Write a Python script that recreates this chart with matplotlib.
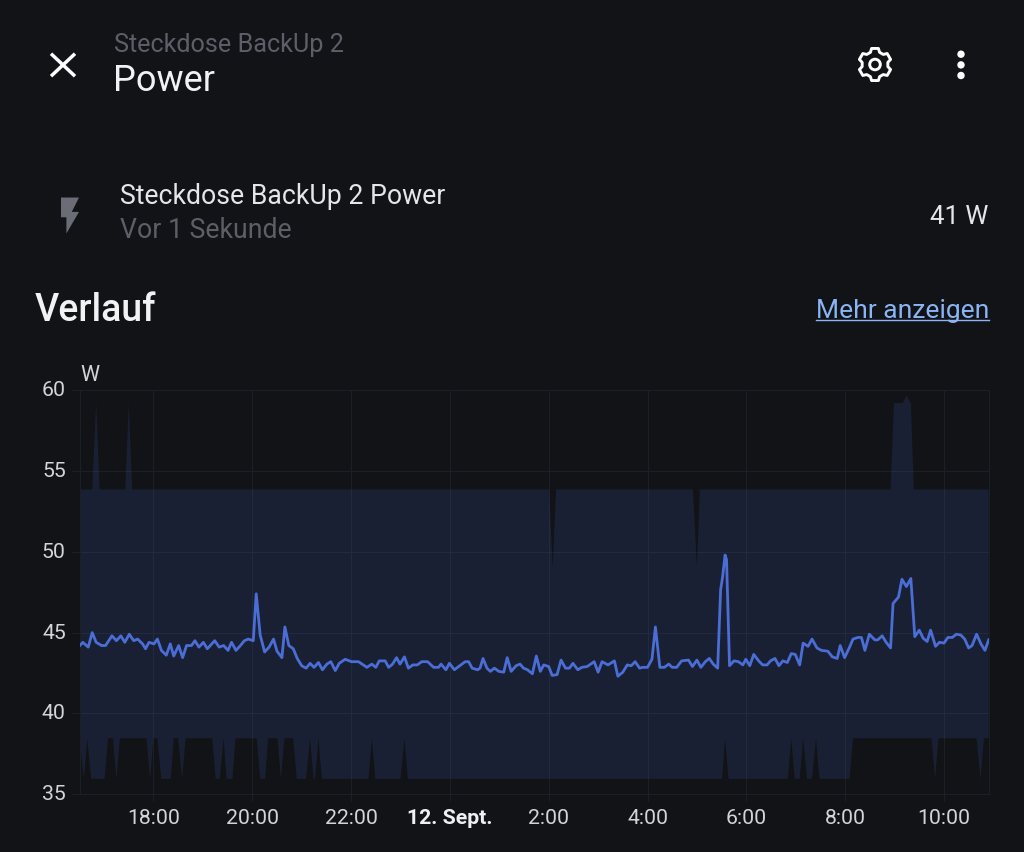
import numpy as np
import matplotlib
matplotlib.use('Agg')
import matplotlib.pyplot as plt
from matplotlib.patches import Circle, Polygon
from matplotlib.transforms import ScaledTranslation

# Time axis is hours since midnight of 11 Sept
t_start = 16.507
t_end = 34.906

power_t = [
    16.51, 16.57, 16.68, 16.76, 16.84, 16.95, 17.03, 17.16, 17.25, 17.34, 17.42, 17.51, 17.60, 17.68, 17.78, 17.84,
    17.91, 18.01, 18.08, 18.16, 18.26, 18.34, 18.41, 18.51, 18.59, 18.67, 18.77, 18.84, 18.92, 19.01, 19.09, 19.24,
    19.33, 19.42, 19.51, 19.58, 19.67, 19.76, 19.84, 19.92, 20.02, 20.08, 20.16, 20.25, 20.34, 20.43, 20.50, 20.60,
    20.66, 20.74, 20.83, 20.91, 21.00, 21.09, 21.17, 21.25, 21.34, 21.42, 21.51, 21.59, 21.68, 21.76, 21.88, 22.01,
    22.15, 22.32, 22.42, 22.50, 22.57, 22.69, 22.76, 22.84, 22.92, 22.99, 23.08, 23.16, 23.25, 23.34, 23.43, 23.55,
    23.67, 23.77, 23.82, 23.92, 23.99, 24.09, 24.20, 24.31, 24.38, 24.45, 24.56, 24.61, 24.67, 24.75, 24.82, 24.90,
    24.99, 25.09, 25.16, 25.24, 25.34, 25.42, 25.49, 25.57, 25.67, 25.75, 25.83, 25.90, 26.00, 26.07, 26.17, 26.25,
    26.34, 26.42, 26.49, 26.59, 26.67, 26.78, 26.92, 27.00, 27.08, 27.20, 27.33, 27.40, 27.50, 27.59, 27.67, 27.75,
    27.84, 27.90, 28.00, 28.09, 28.16, 28.25, 28.34, 28.43, 28.50, 28.59, 28.69, 28.83, 28.91, 29.00, 29.08, 29.17,
    29.25, 29.33, 29.42, 29.48, 29.52, 29.57, 29.60, 29.66, 29.75, 29.84, 29.93, 29.99, 30.07, 30.15, 30.25, 30.33,
    30.42, 30.49, 30.58, 30.66, 30.74, 30.83, 30.91, 30.99, 31.08, 31.15, 31.25, 31.33, 31.43, 31.52, 31.65, 31.74,
    31.84, 31.90, 31.99, 32.09, 32.16, 32.26, 32.33, 32.40, 32.49, 32.60, 32.66, 32.75, 32.83, 32.92, 32.97, 33.08,
    33.15, 33.24, 33.33, 33.41, 33.50, 33.58, 33.66, 33.73, 33.83, 33.91, 34.00, 34.08, 34.17, 34.25, 34.34, 34.42,
    34.50, 34.57, 34.66, 34.75, 34.83, 34.906,
]
power_w = [
    44.2, 44.4, 44.1, 45.0, 44.4, 44.2, 44.2, 44.8, 44.5, 44.8, 44.4, 44.9, 44.5, 44.6, 44.3, 44.0,
    44.4, 44.3, 44.6, 43.9, 43.6, 44.3, 43.55, 44.2, 43.45, 44.2, 44.2, 44.5, 44.1, 44.4, 44.0, 44.5,
    44.1, 44.2, 43.9, 44.4, 43.9, 44.2, 44.5, 44.6, 44.5, 47.4, 44.85, 43.8, 44.1, 44.6, 43.85, 43.45,
    45.35, 44.2, 44.0, 43.4, 42.95, 42.8, 43.1, 42.85, 43.15, 42.7, 43.05, 43.2, 42.65, 43.1, 43.35, 43.2,
    43.2, 42.85, 43.05, 42.85, 43.25, 43.25, 42.85, 43.05, 43.45, 43.05, 43.5, 42.8, 43.0, 43.0, 43.2, 43.2,
    42.85, 42.85, 43.05, 42.7, 43.1, 42.7, 42.95, 43.2, 43.2, 42.8, 42.7, 42.8, 43.4, 42.8, 42.6, 42.8,
    42.6, 42.55, 43.45, 42.6, 42.95, 43.05, 42.8, 42.7, 42.45, 43.55, 42.6, 43.0, 42.9, 42.35, 42.4, 43.3,
    42.8, 42.8, 43.1, 42.7, 42.85, 42.9, 43.2, 42.55, 43.2, 43.0, 43.25, 42.3, 42.55, 43.0, 42.95, 43.2,
    42.8, 42.85, 42.85, 43.35, 45.35, 42.85, 42.85, 43.05, 42.85, 42.85, 43.25, 43.3, 42.9, 43.3, 42.85, 43.2,
    43.4, 43.05, 42.8, 47.65, 48.45, 49.8, 49.5, 42.95, 43.25, 43.2, 43.0, 43.35, 42.95, 43.65, 43.25, 43.0,
    43.0, 43.25, 43.4, 42.95, 43.25, 43.15, 43.7, 43.65, 43.0, 44.35, 44.15, 44.6, 44.05, 43.9, 43.85, 43.5,
    43.4, 44.2, 43.45, 44.1, 44.6, 44.7, 44.7, 43.9, 44.9, 44.55, 44.55, 44.8, 44.4, 44.05, 46.8, 47.2,
    48.3, 47.85, 48.35, 44.75, 45.15, 44.65, 44.45, 45.15, 44.15, 44.4, 44.35, 44.7, 44.7, 44.9, 44.85, 44.6,
    44.05, 44.2, 44.9, 44.3, 43.9, 44.55,
]

# Upper edge of the min/max band
max_t = [16.507, 16.76, 16.84, 16.91, 17.43, 17.50, 17.57, 26.01, 26.08, 26.15, 28.92, 29.00, 29.06,
         32.92, 32.99, 33.17, 33.24, 33.33, 33.39, 34.906]
max_w = [53.86, 53.86, 59.2, 53.86, 53.86, 59.2, 53.86, 53.86, 49.0, 53.86, 53.86, 49.0, 53.86,
         53.86, 59.2, 59.2, 59.7, 59.2, 53.86, 53.86]

# Lower edge of the min/max band
min_t = [16.507, 16.59, 16.66, 16.74, 17.01, 17.08, 17.18, 17.25, 17.32, 17.86, 17.93, 18.00, 18.08, 18.16, 18.35,
         18.41, 18.50, 18.58, 18.65, 19.19, 19.26, 19.34, 19.42, 19.48, 19.60, 19.66, 20.09, 20.16, 20.26, 20.32,
         20.51, 20.58, 20.65, 20.83, 20.90, 21.09, 21.17, 21.24, 21.27, 21.34, 21.41, 22.35, 22.42, 22.49, 23.00,
         23.08, 23.15, 29.51, 29.57, 29.64, 30.84, 30.91, 30.98, 31.08, 31.15, 31.23, 31.33, 31.41, 31.48, 32.09,
         32.16, 33.75, 33.82, 33.89, 34.66, 34.74, 34.81, 34.906]
min_w = [38.46, 35.95, 38.46, 35.95, 35.95, 38.46, 38.46, 35.95, 38.46, 38.46, 35.95, 38.46, 38.46, 35.95, 35.95,
         38.46, 38.46, 35.95, 38.46, 38.46, 35.95, 35.95, 38.46, 35.95, 35.95, 38.46, 38.46, 35.95, 35.95, 38.46,
         38.46, 35.95, 38.46, 38.46, 35.95, 35.95, 38.46, 35.95, 35.95, 38.46, 35.95, 35.95, 38.46, 35.95, 35.95,
         38.46, 35.95, 35.95, 38.46, 35.95, 35.95, 38.46, 35.95, 35.95, 38.46, 35.95, 35.95, 38.46, 35.95, 35.95,
         38.46, 38.46, 35.95, 38.46, 38.46, 35.95, 38.46, 38.46]

y_ticks = [35, 40, 45, 50, 55, 60]
x_ticks = [18, 20, 22, 24, 26, 28, 30, 32, 34]
x_labels = ['18:00', '20:00', '22:00', '12. Sept.', '2:00', '4:00', '6:00', '8:00', '10:00']

bg = '#121317'
grid_col = '#1c1f26'
line_col = '#4a6dd6'
white = '#e6e6e9'
dim = '#5c5e68'
link = '#8ab4f3'

W, H = 1024, 853
plt.rcParams['font.family'] = ['Roboto', 'DejaVu Sans']
fig = plt.figure(figsize=(W / 100, H / 100), dpi=100, facecolor=bg)

# Chart
ax = fig.add_axes([79.7 / W, 1 - 795.2 / H, 909 / W, 404 / H], facecolor=bg)
ax.fill(max_t + min_t[::-1], max_w + min_w[::-1], color=line_col, alpha=0.15, lw=0, zorder=2)
ax.plot(power_t, power_w, color=line_col, lw=2.0, solid_joinstyle='round', zorder=3)
ax.set_xlim(t_start, t_end)
ax.set_ylim(35, 60)
ax.set_xticks(x_ticks)
ax.set_xticklabels(x_labels)
ax.set_yticks(y_ticks)
ax.grid(True, color=grid_col, lw=0.8, zorder=1)
ax.set_axisbelow(True)
ax.tick_params(axis='x', length=5, width=0.8, color=grid_col, labelcolor='#d4d4d8', labelsize=15.3, pad=5)
ax.tick_params(axis='y', length=6, width=0.8, color=grid_col, labelcolor='#d4d4d8', labelsize=15.3, pad=4)
ax.get_xticklabels()[3].set_fontweight('bold')
ax.get_xticklabels()[3].set_color('#f0f0f2')
# the y labels sit about 2 px above their grid lines
lift = ScaledTranslation(0, 2.5 / 100, fig.dpi_scale_trans)
for lab in ax.get_yticklabels():
    lab.set_transform(lab.get_transform() + lift)
for s in ax.spines.values():
    s.set_color(grid_col)
    s.set_linewidth(0.8)

# Dialog chrome, drawn in pixel coordinates
ui = fig.add_axes([0, 0, 1, 1], facecolor='none')
ui.set_xlim(0, W)
ui.set_ylim(H - 1.2, -1.2)
ui.axis('off')

ui.text(114, 50.7, 'Steckdose BackUp 2', color=dim, fontsize=18.2, va='baseline')
ui.text(113, 90, 'Power', color='#f2f2f4', fontsize=26, va='baseline')
ui.text(120, 203.3, 'Steckdose BackUp 2 Power', color=white, fontsize=19.2, va='baseline')
ui.text(120, 237.3, 'Vor 1 Sekunde', color=dim, fontsize=19.2, va='baseline')
ui.text(35, 320, 'Verlauf', color='#f2f2f4', fontsize=27, fontweight='medium', va='baseline')
ui.text(988, 223, '41 W', color=white, fontsize=18.6, ha='right', va='baseline')
ui.text(816, 316.7, 'Mehr anzeigen', color=link, fontsize=19, va='baseline')
ui.plot([816, 989], [319.6, 319.6], color=link, lw=1.0)
ui.text(80, 380, 'W', color='#d4d4d8', fontsize=15.5, va='baseline')

# Close icon
ui.plot([51, 75], [53.5, 76], color='white', lw=2.5, solid_capstyle='butt')
ui.plot([75, 51], [53.5, 76], color='white', lw=2.5, solid_capstyle='butt')

# Bolt icon
bolt = np.array([[7, 2], [7, 13], [10, 13], [10, 22], [17, 10], [13, 10], [17, 2]]) * 1.8 + [48.4, 193.7]
ui.add_patch(Polygon(bolt, closed=True, facecolor='#6a6c76', edgecolor='none'))

# Gear icon
gx, gy = 875, 64.3
ang = []
rad = []
for k in range(6):
    c = np.deg2rad(60 * k - 90)
    ang += [c - 0.36, c - 0.21, c + 0.21, c + 0.36]
    rad += [13.0, 16.4, 16.4, 13.0]
gear = np.column_stack([gx + np.array(rad) * np.cos(ang), gy + np.array(rad) * np.sin(ang)])
ui.add_patch(Polygon(gear, closed=True, facecolor='none', edgecolor='white', lw=2.1, joinstyle='round'))
ui.add_patch(Circle((gx, gy), 5.3, facecolor='none', edgecolor='white', lw=2.1))

# Overflow menu dots
for dy in [54, 64.7, 75.3]:
    ui.add_patch(Circle((961, dy), 3.7, facecolor='white', edgecolor='none'))

fig.savefig('out.png', dpi=100, facecolor=bg)
